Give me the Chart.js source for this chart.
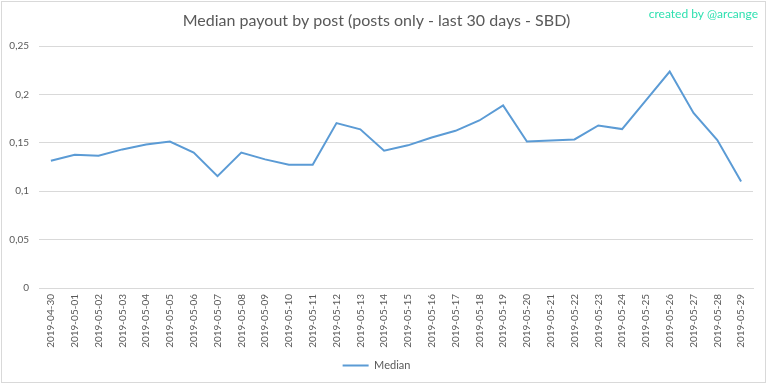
<!DOCTYPE html>
<html>
<head>
<meta charset="utf-8">
<script src="https://cdn.jsdelivr.net/npm/chart.js@4/dist/chart.umd.min.js"></script>
<style>
html,body{margin:0;padding:0;background:#fff;}
#wrap{width:768px;height:384px;position:relative;}
</style>
</head>
<body>
<div id="wrap"><canvas id="c" width="768" height="384"></canvas></div>
<script>
const categories = ["2019-04-30","2019-05-01","2019-05-02","2019-05-03","2019-05-04","2019-05-05","2019-05-06","2019-05-07","2019-05-08","2019-05-09","2019-05-10","2019-05-11","2019-05-12","2019-05-13","2019-05-14","2019-05-15","2019-05-16","2019-05-17","2019-05-18","2019-05-19","2019-05-20","2019-05-21","2019-05-22","2019-05-23","2019-05-24","2019-05-25","2019-05-26","2019-05-27","2019-05-28","2019-05-29"];
const medianValues = [0.1315,0.1377,0.1367,0.1433,0.1484,0.1515,0.1400,0.1157,0.1400,0.1330,0.1274,0.1274,0.1705,0.1640,0.1420,0.1475,0.1556,0.1625,0.1732,0.1887,0.1515,0.1525,0.1536,0.1680,0.1643,0.1940,0.2238,0.1810,0.1529,0.1102];
const yTicks = [0,0.05,0.1,0.15,0.2,0.25];
const titleText = "Median payout by post (posts only - last 30 days - SBD)";
const creditText = "created by @arcange";

const FONT = "Lato, 'Open Sans', 'Liberation Sans', sans-serif";

const frame = {
  id: 'frame',
  beforeDraw(chart) {
    const ctx = chart.ctx;
    ctx.save();
    ctx.fillStyle = '#ffffff';
    ctx.fillRect(0,0,chart.width,chart.height);
    ctx.strokeStyle = '#d9d9d9';
    ctx.lineWidth = 1;
    ctx.strokeRect(1.5,1.5,764,381);
    ctx.restore();
  },
  afterDraw(chart) {
    const ctx = chart.ctx;
    ctx.save();
    ctx.font = "12px " + FONT;
    ctx.fillStyle = '#2fe0b0';
    ctx.textAlign = 'right';
    ctx.textBaseline = 'middle';
    ctx.fillText(creditText, 758, 14);
    ctx.restore();
  }
};

new Chart(document.getElementById('c'), {
  type: 'line',
  data: {
    labels: categories,
    datasets: [{
      label: 'Median',
      data: medianValues,
      borderColor: '#5b9bd5',
      backgroundColor: '#5b9bd5',
      borderWidth: 2,
      pointRadius: 0,
      tension: 0,
      fill: false
    }]
  },
  options: {
    responsive: false,
    animation: false,
    layout: { padding: { left: 0, right: 15, top: 0, bottom: 3 } },
    plugins: {
      title: {
        display: true,
        text: titleText,
        color: '#595959',
        font: { family: FONT, size: 16, weight: 'normal' },
        padding: { top: 11, bottom: 16 }
      },
      legend: {
        display: true,
        position: 'bottom',
        labels: {
          color: '#595959',
          font: { family: FONT, size: 11 },
          boxWidth: 26,
          boxHeight: 0,
          padding: 8,
          generateLabels(chart) {
            const ds = chart.data.datasets[0];
            return [{ text: ds.label, strokeStyle: ds.borderColor, fillStyle: ds.borderColor, lineWidth: 2, fontColor: '#595959' }];
          }
        }
      },
      tooltip: { enabled: false }
    },
    scales: {
      x: {
        offset: true,
        grid: { display: false, drawTicks: false },
        border: { display: true, color: '#d9d9d9' },
        ticks: {
          color: '#595959',
          font: { family: FONT, size: 10 },
          maxRotation: 90, minRotation: 90,
          autoSkip: false,
          padding: 6
        },
        afterFit(scale) { scale.height = 64; }
      },
      y: {
        min: 0, max: 0.25,
        afterBuildTicks(scale) { scale.ticks = yTicks.map(v => ({ value: v })); },
        grid: { color: '#d9d9d9', drawTicks: false },
        border: { display: false },
        ticks: {
          color: '#595959',
          font: { family: FONT, size: 10 },
          padding: 10,
          callback: v => String(Math.round(v*100)/100).replace('.', ',')
        },
        afterFit(scale) { scale.width = 39; }
      }
    }
  },
  plugins: [frame]
});
</script>
</body>
</html>
